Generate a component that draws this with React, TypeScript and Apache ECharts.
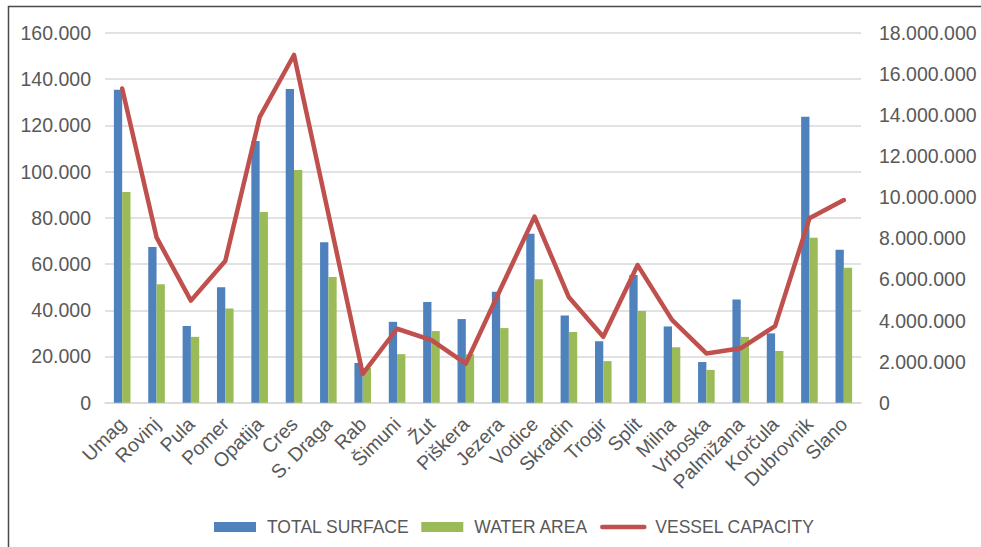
import React, { useEffect, useRef } from "react";
import * as echarts from "echarts";

const categories = [
  "Umag", "Rovinj", "Pula", "Pomer", "Opatija", "Cres", "S. Draga", "Rab", "Šimuni", "Žut", "Piškera",
  "Jezera", "Vodice", "Skradin", "Trogir", "Split", "Milna", "Vrboska", "Palmižana", "Korčula", "Dubrovnik", "Slano",
];
const totalSurface = [
  135400, 67400, 33200, 50000, 113300, 135800, 69400, 17200, 35000, 43600, 36200,
  48000, 73100, 37700, 26600, 55300, 33000, 17600, 44700, 30000, 123800, 66200,
];
const waterArea = [
  91200, 51300, 28500, 40800, 82500, 100700, 54400, 15000, 21000, 31000, 21000,
  32300, 53400, 30600, 18000, 39700, 24000, 14200, 28500, 22400, 71400, 58400,
];
const vesselCapacity = [
  15300000, 8050000, 4970000, 6900000, 13900000, 16930000, 9200000, 1400000, 3600000, 3050000, 1900000,
  5500000, 9060000, 5130000, 3210000, 6700000, 4030000, 2400000, 2650000, 3730000, 8980000, 9870000,
];
const leftTicks = { min: 0, max: 160000, interval: 20000 };
const rightTicks = { min: 0, max: 18000000, interval: 2000000 };

const fmt = (v: number) => String(v).replace(/\B(?=(\d{3})+(?!\d))/g, ".");
const FONT = "Liberation Sans";
const GRAY = "#595959";
const RED = "#c0504d";

export default function App() {
  const ref = useRef<HTMLDivElement>(null);
  useEffect(() => {
    if (!ref.current) return;
    const chart = echarts.init(ref.current, undefined, { renderer: "svg" });
    chart.setOption({
      animation: false,
      backgroundColor: "#ffffff",
      textStyle: { fontFamily: FONT },
      graphic: [
        {
          type: "rect",
          shape: { x: 8.5, y: 6.5, width: 1100, height: 700 },
          style: { fill: "none", stroke: "#4a4a4a", lineWidth: 1.5 },
          silent: true,
        },
      ],
      legend: {
        left: 209,
        top: 513,
        itemWidth: 42,
        itemHeight: 10,
        itemGap: 12,
        textStyle: { fontFamily: FONT, fontSize: 17.5, color: GRAY, padding: [0, 0, 0, 6] },
        data: [
          { name: "TOTAL SURFACE", icon: "rect" },
          { name: "WATER AREA", icon: "rect" },
          {
            name: "VESSEL CAPACITY",
            itemStyle: { opacity: 0 },
            lineStyle: { width: 4.5, cap: "round", color: RED },
          },
        ],
      },
      grid: { left: 105, right: 120, top: 33, bottom: 144.3 },
      xAxis: {
        type: "category",
        data: categories,
        axisTick: { show: false },
        axisLine: { show: true, lineStyle: { color: "#d9d9d9", width: 1.5 } },
        axisLabel: {
          interval: 0,
          rotate: 45,
          margin: 18,
          fontFamily: FONT,
          fontSize: 19.5,
          color: GRAY,
        },
      },
      yAxis: [
        {
          type: "value",
          min: leftTicks.min,
          max: leftTicks.max,
          interval: leftTicks.interval,
          axisLine: { show: false },
          axisTick: { show: false },
          splitLine: { lineStyle: { color: "#d9d9d9", width: 1.5 } },
          axisLabel: { formatter: fmt, margin: 14, fontFamily: FONT, fontSize: 19.5, color: GRAY },
        },
        {
          type: "value",
          min: rightTicks.min,
          max: rightTicks.max,
          interval: rightTicks.interval,
          axisLine: { show: false },
          axisTick: { show: false },
          splitLine: { show: false },
          axisLabel: { formatter: fmt, margin: 18, fontFamily: FONT, fontSize: 19.5, color: GRAY },
        },
      ],
      series: [
        {
          name: "TOTAL SURFACE",
          type: "bar",
          data: totalSurface,
          barWidth: 8.3,
          barGap: "0%",
          itemStyle: { color: "#4f81bd" },
        },
        {
          name: "WATER AREA",
          type: "bar",
          data: waterArea,
          barWidth: 8.3,
          barGap: "0%",
          itemStyle: { color: "#9bbb59" },
        },
        {
          name: "VESSEL CAPACITY",
          type: "line",
          yAxisIndex: 1,
          data: vesselCapacity,
          symbol: "none",
          showSymbol: false,
          lineStyle: { color: RED, width: 4.5, join: "round", cap: "round" },
          itemStyle: { color: RED },
        },
      ],
    });
    return () => chart.dispose();
  }, []);
  return (
    <div
      ref={ref}
      style={{ position: "fixed", left: 0, top: 0, width: 981, height: 547 }}
    />
  );
}
